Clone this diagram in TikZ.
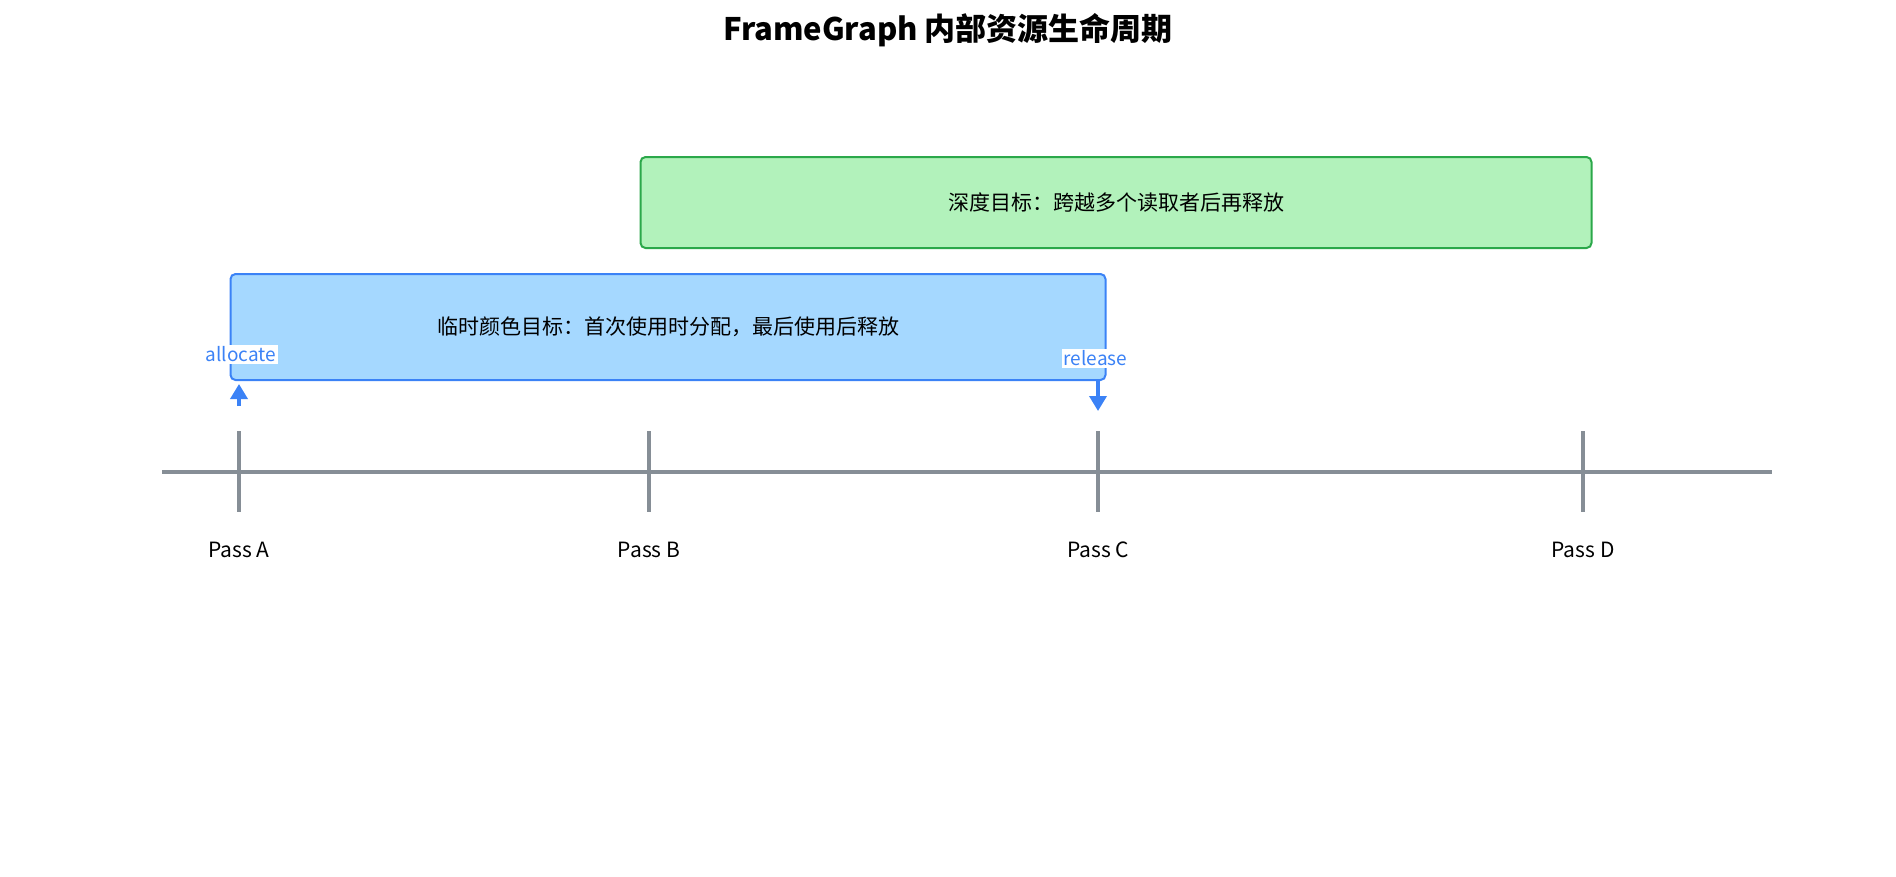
\documentclass[tikz,border=0pt]{standalone}
\usepackage{fontspec}
\setmainfont{Noto Sans CJK SC}
\usetikzlibrary{positioning,arrows.meta}
\definecolor{axisgray}{HTML}{868E96}
\definecolor{colfill}{HTML}{A5D8FF}
\definecolor{coldraw}{HTML}{3B82F6}
\definecolor{depfill}{HTML}{B2F2BB}
\definecolor{depdraw}{HTML}{2BA84A}

\begin{document}
\begin{tikzpicture}[
x=1pt,
y=-1pt,
res/.style={
  draw,
  line width=2pt,
  rounded corners=5pt,
  inner sep=0pt,
  font=\fontsize{21}{25}\selectfont
  },
axis/.style={
  draw=axisgray,
  line width=4pt
  },
pass/.style={
  font=\fontsize{21}{25}\selectfont
  },
event/.style={
  fill=white,
  text=coldraw,
  inner sep=2pt,
  font=\fontsize{19}{22}\selectfont
  },
life/.style={
  draw=coldraw,
  line width=3.5pt,
  -{Triangle[length=15pt,width=17pt]}
  }
]
\useasboundingbox (0,0) rectangle (1896,876);

\node[font=\bfseries\fontsize{31}{36}\selectfont] (title) at (948,30)
  {FrameGraph 内部资源生命周期};

% resource lifetimes
\node[res, draw=depdraw, fill=depfill, minimum width=951pt, minimum height=91pt]
  (depth) at (1116,202.5) {深度目标：跨越多个读取者后再释放};
\node[res, draw=coldraw, fill=colfill, minimum width=875pt, minimum height=106pt]
  (color) at (668,327) {临时颜色目标：首次使用时分配，最后使用后释放};

% timeline
\coordinate (axisL) at (162,471.6);
\coordinate (axisR) at (1772,471.6);
\draw[axis] (axisL) -- (axisR);
\foreach \x/\n in {239/A,649/B,1098/C,1583/D}
{
  \draw[axis] (\x,431) -- (\x,512);
  \node[pass] (pass\n) at (\x,550) {Pass \n};
}

% allocate / release
\coordinate (allocfrom) at (239,406);
\coordinate (reltip) at (1098,411);
\draw[life, shorten >=3pt] (allocfrom) -- (allocfrom |- color.south);
\draw[life] (reltip |- color.south) -- (reltip);
\node[event] (alloc) at (241,354.5) {allocate};
\node[event] (release) at (1095.5,358.5) {release};
\end{tikzpicture}
\end{document}
